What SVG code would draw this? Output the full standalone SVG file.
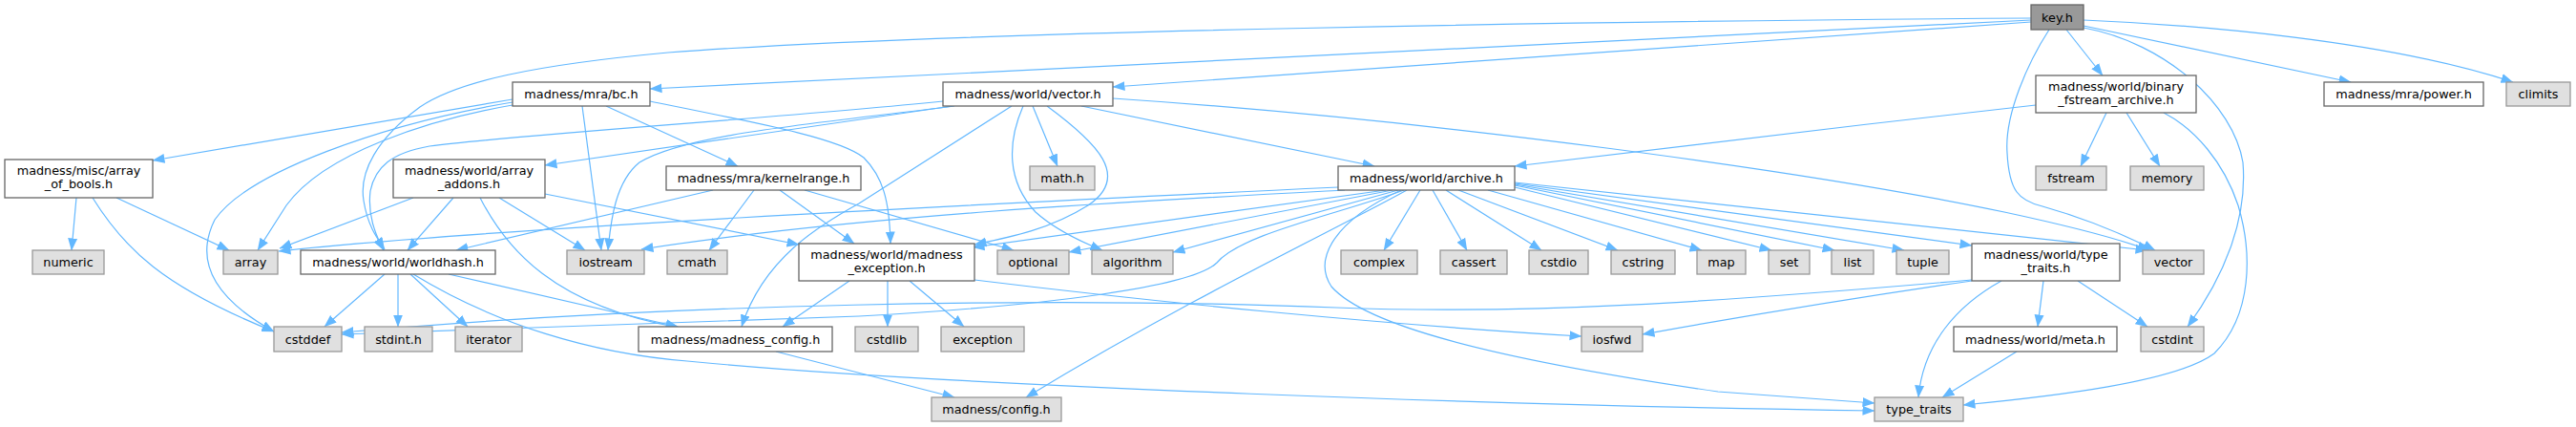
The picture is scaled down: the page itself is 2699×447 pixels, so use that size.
<svg xmlns="http://www.w3.org/2000/svg" width="2699" height="447" viewBox="0 0 2699 447">
<style>
rect{stroke-width:1.3}
.n rect{fill:#fff;stroke:#666}
.x rect{fill:#e0e0e0;stroke:#999}
.k rect{fill:#999;stroke:#666}
text{font-family:"DejaVu Sans",sans-serif;font-size:12.8px;text-anchor:middle;fill:#000}
#edges path{fill:none;stroke:#63b8ff;stroke-width:1.2;marker-end:url(#a)}
</style>
<defs>
<marker id="a" markerUnits="userSpaceOnUse" viewBox="0 0 13 11" markerWidth="13" markerHeight="11" refX="12.5" refY="5.5" orient="auto">
<path d="M0,0.5 L13,5.5 L0,10.5 z" fill="#63b8ff"/>
</marker>
</defs>
<rect width="2699" height="447" fill="#fff"/>
<g id="edges">
<path d="M2128,21 L681,93"/>
<path d="M2128,23 L1166,91"/>
<path d="M2128,19 C1700,22 1000,32 700,55 C560,68 480,85 440,112 C395,145 376,180 381,210 C385,235 394,248 403,261"/>
<path d="M2165,31 L2203,79"/>
<path d="M2183,27 L2463,86"/>
<path d="M2183,21 C2300,26 2500,42 2633,86"/>
<path d="M2147,31 C2125,65 2100,120 2103,160 C2105,200 2115,210 2140,216 C2190,230 2230,248 2258,262"/>
<path d="M2183,29 C2270,45 2340,110 2350,170 C2355,230 2330,290 2292,342"/>
<path d="M2207,118 L2180,174"/>
<path d="M2228,118 L2263,174"/>
<path d="M2133,110 C1950,130 1750,155 1587,174"/>
<path d="M2267,118 C2300,135 2330,170 2345,215 C2360,265 2360,330 2320,370 C2280,400 2150,415 2057,424"/>
<path d="M537,104 L160,168"/>
<path d="M537,110 C450,125 340,160 300,215 L270,262"/>
<path d="M537,107 C400,130 260,180 225,230 C205,270 220,310 287,347"/>
<path d="M610,111 L630,262"/>
<path d="M635,111 L773,174"/>
<path d="M681,106 C800,130 880,145 905,165 C925,185 932,210 933,255"/>
<path d="M1082,111 L1108,174"/>
<path d="M1133,111 L1440,174"/>
<path d="M1166,103 C1500,125 1900,180 2100,222 C2170,237 2220,250 2252,262"/>
<path d="M998,111 L571,173"/>
<path d="M988,106 C800,125 550,140 450,153 C410,160 393,175 388,200 C385,225 393,245 402,262"/>
<path d="M1000,111 C850,130 720,140 670,170 C645,190 640,230 637,262"/>
<path d="M1072,111 C1055,150 1055,190 1085,222 C1105,240 1130,252 1155,262"/>
<path d="M1097,111 C1150,150 1185,185 1140,215 C1100,240 1060,248 1021,256"/>
<path d="M1060,111 L900,213 C860,235 800,270 777,342"/>
<path d="M80,207 L75,262"/>
<path d="M122,207 L240,262"/>
<path d="M97,207 C130,260 170,300 287,347"/>
<path d="M433,207 L293,260"/>
<path d="M475,207 L427,262"/>
<path d="M523,207 L613,262"/>
<path d="M503,207 C530,260 580,320 712,343"/>
<path d="M571,203 L837,256"/>
<path d="M747,199 L478,262"/>
<path d="M790,199 L743,262"/>
<path d="M817,199 L895,255"/>
<path d="M843,199 L1062,262"/>
<path d="M403,287 L340,342"/>
<path d="M417,287 L417,342"/>
<path d="M430,287 L490,342"/>
<path d="M470,287 L710,342"/>
<path d="M433,287 C520,340 620,370 720,378 C1000,405 1600,425 1964,430"/>
<path d="M930,294 L930,342"/>
<path d="M953,294 L1010,342"/>
<path d="M890,294 L820,342"/>
<path d="M1021,293 C1200,315 1450,340 1657,352"/>
<path d="M813,368 L1000,416"/>
<path d="M1402,196 C1000,215 500,240 292,263"/>
<path d="M1409,199 C1200,210 900,225 672,261"/>
<path d="M1459,199 L1120,264"/>
<path d="M1465,199 L1229,264"/>
<path d="M1452,199 L1019,259"/>
<path d="M1471,199 C1400,225 1300,245 1275,275 C1250,300 1100,320 900,331 L358,350"/>
<path d="M1474,199 C1400,240 1250,310 1075,416"/>
<path d="M1488,199 L1450,262"/>
<path d="M1501,199 L1537,262"/>
<path d="M1515,199 L1615,262"/>
<path d="M1528,199 L1695,262"/>
<path d="M1559,199 L1783,262"/>
<path d="M1587,196 L1856,262"/>
<path d="M1587,194 L1922,262"/>
<path d="M1587,193 L1995,262"/>
<path d="M1587,192 L2066,257"/>
<path d="M1587,191 L2250,262"/>
<path d="M1468,199 C1400,230 1375,270 1395,300 C1430,340 1560,375 1800,410 L1964,422"/>
<path d="M2066,293 C1800,316 1600,330 1400,322 C1100,310 700,318 358,348"/>
<path d="M2066,294 C1900,318 1800,336 1721,350"/>
<path d="M2177,294 L2250,342"/>
<path d="M2141,294 L2135,342"/>
<path d="M2097,294 C2050,320 2015,360 2010,416"/>
<path d="M2113,368 L2035,416"/>
</g>
<g id="key" class="k"><rect x="2128" y="5" width="55" height="26"/><text x="2155.5" y="22.5">key.h</text></g>
<g id="binary" class="n"><rect x="2133" y="79" width="168" height="39"/><text x="2217" y="95">madness/world/binary</text><text x="2217" y="109">_fstream_archive.h</text></g>
<g id="fstream" class="x"><rect x="2133" y="174" width="74" height="25"/><text x="2170" y="191">fstream</text></g>
<g id="memory" class="x"><rect x="2232" y="174" width="77" height="25"/><text x="2270.5" y="191">memory</text></g>
<g id="power" class="n"><rect x="2435" y="86" width="167" height="25"/><text x="2518.5" y="103">madness/mra/power.h</text></g>
<g id="climits" class="x"><rect x="2626" y="86" width="67" height="25"/><text x="2659.5" y="103">climits</text></g>
<g id="bc" class="n"><rect x="537" y="86" width="144" height="25"/><text x="609" y="103">madness/mra/bc.h</text></g>
<g id="vectorh" class="n"><rect x="988" y="86" width="178" height="25"/><text x="1077" y="103">madness/world/vector.h</text></g>
<g id="math" class="x"><rect x="1079" y="174" width="68" height="25"/><text x="1113" y="191">math.h</text></g>
<g id="archive" class="n"><rect x="1402" y="174" width="185" height="25"/><text x="1494.5" y="191">madness/world/archive.h</text></g>
<g id="aob" class="n"><rect x="5" y="167" width="155" height="40"/><text x="82.5" y="183">madness/misc/array</text><text x="82.5" y="197">_of_bools.h</text></g>
<g id="addons" class="n"><rect x="412" y="167" width="159" height="40"/><text x="491.5" y="183">madness/world/array</text><text x="491.5" y="197">_addons.h</text></g>
<g id="kernel" class="n"><rect x="698" y="174" width="204" height="25"/><text x="800" y="191">madness/mra/kernelrange.h</text></g>
<g id="numeric" class="x"><rect x="34" y="262" width="75" height="25"/><text x="71.5" y="279">numeric</text></g>
<g id="array" class="x"><rect x="234" y="262" width="57" height="25"/><text x="262.5" y="279">array</text></g>
<g id="worldhash" class="n"><rect x="315" y="262" width="204" height="25"/><text x="417" y="279">madness/world/worldhash.h</text></g>
<g id="iostream" class="x"><rect x="594" y="262" width="81" height="25"/><text x="634.5" y="279">iostream</text></g>
<g id="cmath" class="x"><rect x="699" y="262" width="63" height="25"/><text x="730.5" y="279">cmath</text></g>
<g id="mexc" class="n"><rect x="837" y="255" width="184" height="39"/><text x="929" y="271">madness/world/madness</text><text x="929" y="285">_exception.h</text></g>
<g id="optional" class="x"><rect x="1045" y="262" width="75" height="25"/><text x="1082.5" y="279">optional</text></g>
<g id="algorithm" class="x"><rect x="1144" y="262" width="85" height="25"/><text x="1186.5" y="279">algorithm</text></g>
<g id="complex" class="x"><rect x="1405" y="262" width="80" height="25"/><text x="1445" y="279">complex</text></g>
<g id="cassert" class="x"><rect x="1509" y="262" width="70" height="25"/><text x="1544" y="279">cassert</text></g>
<g id="cstdio" class="x"><rect x="1602" y="262" width="62" height="25"/><text x="1633" y="279">cstdio</text></g>
<g id="cstring" class="x"><rect x="1688" y="262" width="67" height="25"/><text x="1721.5" y="279">cstring</text></g>
<g id="map" class="x"><rect x="1778" y="262" width="51" height="25"/><text x="1803.5" y="279">map</text></g>
<g id="set" class="x"><rect x="1853" y="262" width="43" height="25"/><text x="1874.5" y="279">set</text></g>
<g id="list" class="x"><rect x="1919" y="262" width="44" height="25"/><text x="1941" y="279">list</text></g>
<g id="tuple" class="x"><rect x="1987" y="262" width="55" height="25"/><text x="2014.5" y="279">tuple</text></g>
<g id="typetraitsh" class="n"><rect x="2066" y="255" width="155" height="39"/><text x="2143.5" y="271">madness/world/type</text><text x="2143.5" y="285">_traits.h</text></g>
<g id="vector" class="x"><rect x="2245" y="262" width="64" height="25"/><text x="2277" y="279">vector</text></g>
<g id="cstddef" class="x"><rect x="287" y="342" width="71" height="26"/><text x="322.5" y="359.5">cstddef</text></g>
<g id="stdint" class="x"><rect x="382" y="342" width="71" height="26"/><text x="417.5" y="359.5">stdint.h</text></g>
<g id="iterator" class="x"><rect x="477" y="342" width="70" height="26"/><text x="512" y="359.5">iterator</text></g>
<g id="mconfig" class="n"><rect x="669" y="342" width="203" height="26"/><text x="770.5" y="359.5">madness/madness_config.h</text></g>
<g id="cstdlib" class="x"><rect x="896" y="342" width="66" height="26"/><text x="929" y="359.5">cstdlib</text></g>
<g id="exception" class="x"><rect x="986" y="342" width="87" height="26"/><text x="1029.5" y="359.5">exception</text></g>
<g id="iosfwd" class="x"><rect x="1657" y="342" width="64" height="26"/><text x="1689" y="359.5">iosfwd</text></g>
<g id="meta" class="n"><rect x="2047" y="342" width="171" height="26"/><text x="2132.5" y="359.5">madness/world/meta.h</text></g>
<g id="cstdint" class="x"><rect x="2243" y="342" width="66" height="26"/><text x="2276" y="359.5">cstdint</text></g>
<g id="config" class="x"><rect x="976" y="416" width="136" height="25"/><text x="1044" y="433">madness/config.h</text></g>
<g id="type_traits" class="x"><rect x="1964" y="416" width="93" height="25"/><text x="2010.5" y="433">type_traits</text></g>
</svg>
